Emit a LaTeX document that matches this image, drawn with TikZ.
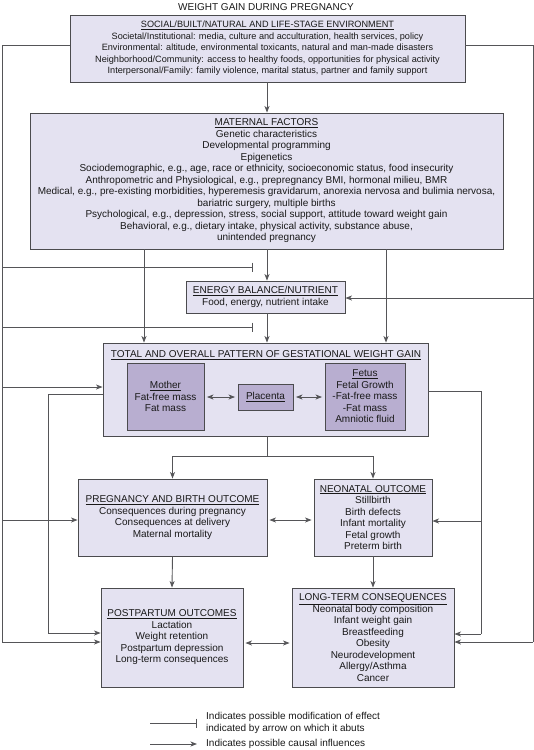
\documentclass[tikz,border=0pt]{standalone}
\usepackage{fontspec}
\setmainfont{Liberation Sans}
\usetikzlibrary{arrows.meta,calc}
\definecolor{boxfill}{RGB}{228,226,241}
\definecolor{innerfill}{RGB}{184,174,208}
\definecolor{edge}{RGB}{75,75,78}
\definecolor{wire}{RGB}{85,85,88}
\newcommand{\hdr}[1]{\underline{#1}}
\begin{document}
\begin{tikzpicture}[x=1pt,y=-1pt,
  txt/.style={font=\fontsize{10}{11.5}\selectfont, align=center, inner sep=0pt, text=black!90},
  envtxt/.style={font=\fontsize{9.15}{11.5}\selectfont},
  box/.style={txt, draw=edge, line width=0.9pt, fill=boxfill},
  inbox/.style={txt, draw=edge, line width=0.9pt, fill=innerfill},
  ln/.style={draw=wire, line width=0.9pt},
  arr/.style={ln, -{Stealth[length=6.5pt,width=5pt,inset=1.8pt]}},
  dbl/.style={ln, {Stealth[length=6.5pt,width=5pt,inset=1.8pt]}-{Stealth[length=6.5pt,width=5pt,inset=1.8pt]}},
  barend/.style={ln, -{Bar[width=9pt,line width=0.9pt]}}
]
\useasboundingbox (0,0) rectangle (534,750);

% title
\node[txt] (title) at (266,7) {WEIGHT GAIN DURING PREGNANCY};

% boxes
\node[box, envtxt, minimum width=395pt, minimum height=67pt] (env) at (267.5,48.5) {\hdr{SOCIAL/BUILT/NATURAL AND LIFE-STAGE ENVIRONMENT}\\
Societal/Institutional: media, culture and acculturation, health services, policy\\
Environmental: altitude, environmental toxicants, natural and man-made disasters\\
Neighborhood/Community: access to healthy foods, opportunities for physical activity\\
Interpersonal/Family: family violence, marital status, partner and family support};

\node[box, minimum width=473pt, minimum height=136pt] (mat) at (266.5,181) {\hdr{MATERNAL FACTORS}\\
Genetic characteristics\\
Developmental programming\\
Epigenetics\\
Sociodemographic, e.g., age, race or ethnicity, socioeconomic status, food insecurity\\
Anthropometric and Physiological, e.g., prepregnancy BMI, hormonal milieu, BMR\\
Medical, e.g., pre-existing morbidities, hyperemesis gravidarum, anorexia nervosa and bulimia nervosa,\\
bariatric surgery, multiple births\\
Psychological, e.g., depression, stress, social support, attitude toward weight gain\\
Behavioral, e.g., dietary intake, physical activity, substance abuse,\\
unintended pregnancy};

\node[box, minimum width=159pt, minimum height=32pt] (nrg) at (265.5,297) {\hdr{ENERGY BALANCE/NUTRIENT}\\
Food, energy, nutrient intake};

\node[box, minimum width=325pt, minimum height=93pt] (tot) at (265.5,389.5) {};
\node[txt] (totlab) at (266,355) {\hdr{TOTAL AND OVERALL PATTERN OF GESTATIONAL WEIGHT GAIN}};

\node[inbox, minimum width=77pt, minimum height=67pt] (mom) at (165.5,396.5) {\hdr{Mother}\\Fat-free mass\\Fat mass};
\node[inbox, minimum width=55pt, minimum height=26pt] (plac) at (265.5,397) {\hdr{Placenta}};
\node[inbox, minimum width=80pt, minimum height=67pt] (fet) at (365,396.5) {\hdr{Fetus}\\Fetal Growth\\-Fat-free mass\\-Fat mass\\Amniotic fluid};

\node[box, minimum width=189pt, minimum height=77pt] (preg) at (172.5,517.5) {\hdr{PREGNANCY AND BIRTH OUTCOME}\\
Consequences during pregnancy\\
Consequences at delivery\\
Maternal mortality};

\node[box, minimum width=118pt, minimum height=77pt] (neo) at (373,517.5) {\hdr{NEONATAL OUTCOME}\\
Stillbirth\\
Birth defects\\
Infant mortality\\
Fetal growth\\
Preterm birth};

\node[box, minimum width=142pt, minimum height=99pt] (pp) at (172,637.5) {\hdr{POSTPARTUM OUTCOMES}\\
Lactation\\
Weight retention\\
Postpartum depression\\
Long-term consequences};

\node[box, minimum width=162pt, minimum height=99pt] (lt) at (373,637.5) {\hdr{LONG-TERM CONSEQUENCES}\\
Neonatal body composition\\
Infant weight gain\\
Breastfeeding\\
Obesity\\
Neurodevelopment\\
Allergy/Asthma\\
Cancer};

% corner coordinates
\coordinate (OLt) at (2,45);
\coordinate (OLb) at (2,642);
\coordinate (ORt) at (533,45);
\coordinate (ORb) at (533,642);
\coordinate (B1s) at (2,267);
\coordinate (B1e) at (253,267);
\coordinate (B2s) at (2,327);
\coordinate (B2e) at (253,327);
\coordinate (OLtot) at (2,387);
\coordinate (OLpreg) at (2,520);
\coordinate (ORnrg) at (533,298);
\coordinate (ILt) at (48,394);
\coordinate (ILb) at (48,633);
\coordinate (IRt) at (481,391);
\coordinate (IRb) at (481,634);
\coordinate (IRneo) at (481,521);
\coordinate (Tsplit) at (267,456);
\coordinate (Lsplit) at (172.5,456);
\coordinate (Rsplit) at (373,456);

% environment -> maternal
\draw[arr] (env.south -| 267,0) -- (mat.north -| 267,0);
% outer left line
\draw[ln] (env.west |- OLt) -- (OLt) -- (OLb);
\draw[arr] (OLb) -- (pp.west |- OLb);
\draw[barend] (B1s) -- (B1e);
\draw[barend] (B2s) -- (B2e);
\draw[arr] (OLtot) -- (tot.west |- OLtot);
\draw[arr] (OLpreg) -- (preg.west |- OLpreg);
% outer right line
\draw[ln] (env.east |- ORt) -- (ORt) -- (ORb);
\draw[arr] (ORb) -- (lt.east |- ORb);
\draw[arr] (ORnrg) -- (nrg.east |- ORnrg);

% maternal -> energy / total
\draw[arr] (mat.south -| 267,0) -- (nrg.north -| 267,0);
\draw[arr] (mat.south -| 144,0) -- (tot.north -| 144,0);
\draw[arr] (mat.south -| 386,0) -- (tot.north -| 386,0);
\draw[arr] (nrg.south -| 267,0) -- (tot.north -| 267,0);

% inside total
\draw[dbl, shorten <=2.5pt, shorten >=2.5pt] (mom.east |- plac) -- (plac.west);
\draw[dbl, shorten <=2.5pt, shorten >=2.5pt] (plac.east) -- (fet.west |- plac);

% inner left/right
\draw[ln] (tot.west |- ILt) -- (ILt) -- (ILb);
\draw[arr] (ILb) -- (pp.west |- ILb);
\draw[ln] (tot.east |- IRt) -- (IRt) -- (IRb);
\draw[arr] (IRb) -- (lt.east |- IRb);
\draw[arr] (IRneo) -- (neo.east |- IRneo);

% total -> outcomes
\draw[ln] (tot.south -| Tsplit) -- (Tsplit);
\draw[arr] (Lsplit) -| (Rsplit) -- (neo.north);
\draw[arr] (Rsplit) -| (Lsplit) -- (preg.north);
\draw[dbl, shorten <=2pt, shorten >=2pt] (preg.east |- OLpreg) -- (neo.west |- OLpreg);
\draw[arr] (preg.south) -- (pp.north);
\draw[arr] (neo.south) -- (lt.north);
\draw[dbl, shorten <=2pt, shorten >=2pt] (pp.east |- 0,643) -- (lt.west |- 0,643);

% legend
\coordinate (LGa) at (150,723);
\coordinate (LGb) at (197,723);
\coordinate (LGc) at (150,744);
\coordinate (LGd) at (197,744);
\draw[barend] (LGa) -- (LGb);
\draw[arr] (LGc) -- (LGd);
\node[txt, anchor=west, align=left] (leg1) at (206,723) {Indicates possible modification of effect\\indicated by arrow on which it abuts};
\node[txt, anchor=west, align=left] (leg2) at (206,744) {Indicates possible causal influences};
\end{tikzpicture}
\end{document}
